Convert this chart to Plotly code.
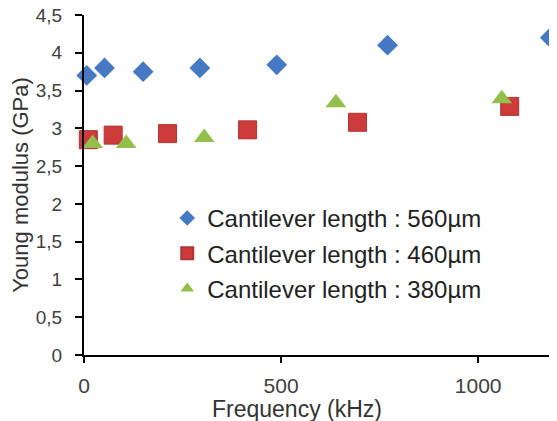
import plotly.graph_objects as go

# Data
freq_560 = [7, 52, 150, 294, 489, 770, 1183]
E_560 = [3.70, 3.80, 3.75, 3.80, 3.84, 4.10, 4.20]

freq_460 = [11, 74, 212, 415, 694, 1080]
E_460 = [2.85, 2.91, 2.93, 2.98, 3.08, 3.29]

freq_380 = [22, 107, 305, 639, 1060]
E_380 = [2.80, 2.80, 2.88, 3.34, 3.39]

series_names = ["Cantilever length : 560µm",
                "Cantilever length : 460µm",
                "Cantilever length : 380µm"]

y_tick_vals = [0, 0.5, 1, 1.5, 2, 2.5, 3, 3.5, 4, 4.5]
y_tick_text = ["0", "0,5", "1", "1,5", "2", "2,5", "3", "3,5", "4", "4,5"]
x_tick_vals = [0, 500, 1000]
x_tick_text = ["0", "500", "1000"]

FONT = "Liberation Sans, Arial, sans-serif"

fig = go.Figure()
fig.add_trace(go.Scatter(x=freq_560, y=E_560, mode="markers", name=series_names[0],
                         legendgroup="a", cliponaxis=False,
                         marker=dict(symbol="diamond", size=16, color="#4679C4")))
fig.add_trace(go.Scatter(x=freq_460, y=E_460, mode="markers", name=series_names[1],
                         legendgroup="b", cliponaxis=False,
                         marker=dict(symbol="square", size=18, color="#CD3B3B",
                                     line=dict(color="#B03535", width=1))))
fig.add_trace(go.Scatter(x=freq_380, y=E_380, mode="markers", name=series_names[2],
                         legendgroup="c", cliponaxis=False,
                         marker=dict(symbol="triangle-up", size=18, color="#95BF4B")))

# The page body adds an 8px offset, so the figure is 8px smaller than the window.
fig.update_layout(
    width=549, height=413,
    margin=dict(l=76, r=0, t=7, b=66, autoexpand=False),
    paper_bgcolor="white", plot_bgcolor="white",
    font=dict(family=FONT, size=20, color="#333333"),
    showlegend=True,
    legend=dict(x=0.176, y=0.468, xanchor="left", yanchor="top",
                bgcolor="rgba(0,0,0,0)", font=dict(size=24, color="#222222"),
                tracegroupgap=1, itemsizing="constant"),
    annotations=[dict(text="Frequency (kHz)", x=0.45, xref="paper", y=-0.16, yref="paper",
                      xanchor="center", yanchor="middle", showarrow=False,
                      font=dict(size=23, color="#333333"))],
)
fig.update_xaxes(range=[0, 1200], tickvals=x_tick_vals, ticktext=x_tick_text,
                 automargin=False, ticklabelstandoff=5, ticklabeloverflow="allow",
                 showgrid=False, zeroline=False, showline=True, linecolor="black",
                 linewidth=2, ticks="outside", ticklen=6, tickwidth=1.5, tickcolor="black",
                 tickfont=dict(size=21, color="#404040"))
fig.update_yaxes(range=[0, 4.5], tickvals=y_tick_vals, ticktext=y_tick_text,
                 automargin=False, ticklabelstandoff=9, ticklabeloverflow="allow",
                 showgrid=False, zeroline=False, showline=True, linecolor="black",
                 linewidth=2, ticks="outside", ticklen=7, tickwidth=1.5, tickcolor="black",
                 tickfont=dict(size=19, color="#404040"),
                 title=dict(text="Young modulus (GPa)", font=dict(size=22, color="#333333"),
                            standoff=11))

fig.write_html("out.html")
